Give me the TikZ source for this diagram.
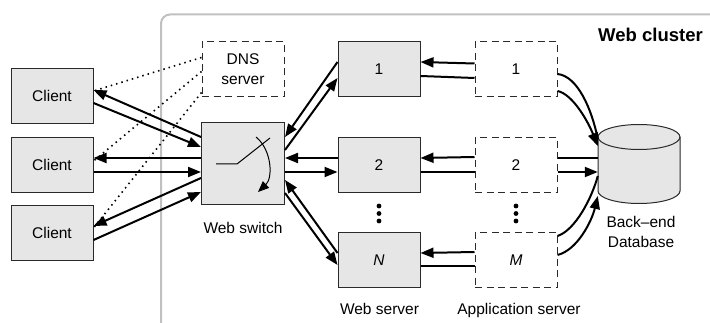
\documentclass[tikz,border=0pt]{standalone}
\usepackage{fontspec}
\setmainfont{Liberation Sans}
\usetikzlibrary{arrows.meta,calc}
\definecolor{boxgray}{HTML}{E6E6E6}
\definecolor{framegray}{HTML}{C0C0C0}
\definecolor{edge}{HTML}{2A2A2A}
\begin{document}
\begin{tikzpicture}[x=1pt,y=-1pt,
  font=\fontsize{15.5}{20}\selectfont,
  box/.style={draw=edge,line width=1pt,fill=boxgray,minimum width=82pt,minimum height=55pt,inner sep=0pt},
  dbox/.style={draw=edge,line width=1pt,dash pattern=on 7pt off 4.5pt,minimum width=82pt,minimum height=55pt,inner sep=0pt},
  flow/.style={line width=2pt,draw=black},
  tip/.style={flow,-{Triangle[length=13pt,width=10pt]}},
  hint/.style={line width=1.6pt,dash pattern=on 1.5pt off 4pt},
  caption/.style={inner sep=0pt,anchor=base},
]
\useasboundingbox (0,0) rectangle (710,323);

% cluster frame, running off the right and bottom edges
\begin{scope}
  \clip (0,0) rectangle (710,323);
  \draw[framegray,line width=2pt,rounded corners=9pt] (161,14.5) rectangle (760,380);
\end{scope}

% clients
\node[box] (c1) at (52,96) {Client};
\node[box] (c2) at (52,165) {Client};
\node[box] (c3) at (52,233) {Client};

% DNS server and web switch
\node[dbox,align=center] (dns) at (243,69.5) {DNS\\server};
\node[box,minimum width=83pt,minimum height=82pt] (sw) at (243,164) {};
\node[caption] (swlabel) at (243,233.3) {Web switch};

% switch symbol
\begin{scope}[shift={(sw.center)}]
  \draw[line width=1pt] (-27,0) -- (-6,0) -- (27,-26);
  \draw[line width=1pt,-{Triangle[length=11pt,width=9pt]}] (13,-27) .. controls (29,-14) and (30,14) .. (15,28);
\end{scope}

% web servers
\node[box] (ws1) at (379,69.5) {1};
\node[box] (ws2) at (379,165) {2};
\node[box] (wsN) at (379,260) {\textit{N}};
\node[caption] (wslabel) at (379.5,315) {Web server};

% application servers
\node[dbox] (as1) at (516,69.5) {1};
\node[dbox] (as2) at (516,165) {2};
\node[dbox] (asM) at (516,260) {\textit{M}};
\node[caption] (aslabel) at (519,315) {Application server};

% vertical ellipses
\foreach \yy in {206,213.5,221} {
  \fill (379,\yy) circle[radius=2.4pt];
  \fill (516,\yy) circle[radius=2.4pt];
}

% back-end database
\node[minimum width=82pt,minimum height=78pt,inner sep=0pt] (db) at (639,164) {};
\begin{scope}[shift={($(db.center)+(0,-27)$)},y=1pt]
  \filldraw[fill=boxgray,draw=edge,line width=1pt] (-41,0) -- (-41,-54)
    arc[start angle=180,end angle=360,x radius=41pt,y radius=12.5pt] -- (41,0)
    arc[start angle=0,end angle=180,x radius=41pt,y radius=12.5pt] -- cycle;
  \draw[edge,line width=1pt] (41,0) arc[start angle=0,end angle=-180,x radius=41pt,y radius=12.5pt];
\end{scope}
\node[align=center,inner sep=0pt] (dblabel) at (641,231.5) {Back–end\\Database};

\node[caption,font=\bfseries\fontsize{18.5}{22}\selectfont] (title) at (650.5,42) {Web cluster};

% DNS hints to the clients
\draw[hint] ($(dns.west)+(0,-12)$) -- ($(c1.east)+(0,-5)$);
\draw[hint] ($(dns.west)+(0,2)$) -- ($(c2.east)+(0,-4)$);
\draw[hint] ($(dns.west)+(0,23)$) -- ($(c3.east)+(0,-5)$);

% clients <-> web switch
\draw[tip] ($(sw.west)+(0,-27)$) -- ($(c1.east)+(0,-6)$);
\draw[tip] ($(c1.east)+(0,7)$) -- ($(sw.west)+(0,-17)$);
\draw[tip] ($(sw.west)+(0,-6)$) -- ($(c2.east)+(0,-7)$);
\draw[tip] ($(c2.east)+(0,7)$) -- ($(sw.west)+(0,8)$);
\draw[tip] ($(sw.west)+(0,14)$) -- ($(c3.east)+(0,-7)$);
\draw[tip] ($(c3.east)+(0,7)$) -- ($(sw.west)+(0,28)$);

% web switch <-> web servers
\draw[tip] ($(ws1.west)+(0,-7.5)$) -- ($(sw.east)+(0,-27)$);
\draw[tip] ($(sw.east)+(0,-14)$) -- ($(ws1.west)+(0,8.5)$);
\draw[tip] ($(ws2.west)+(0,-7)$) -- ($(sw.east)+(0,-6)$);
\draw[tip] ($(sw.east)+(0,8)$) -- ($(ws2.west)+(0,7)$);
\draw[tip] ($(wsN.west)+(0,-7)$) -- ($(sw.east)+(0,16)$);
\draw[tip] ($(sw.east)+(0,29)$) -- ($(wsN.west)+(0,5)$);

% application servers <-> web servers
\draw[tip] ($(as1.west)+(0,-6)$) -- ($(ws1.east)+(0,-7.5)$);
\draw[flow] ($(ws1.east)+(0,6.5)$) -- ($(as1.west)+(0,8.5)$);
\draw[tip] ($(as2.west)+(0,-8)$) -- ($(ws2.east)+(0,-7)$);
\draw[flow] ($(ws2.east)+(0,7)$) -- ($(as2.west)+(0,7)$);
\draw[tip] ($(asM.west)+(0,-8)$) -- ($(wsN.east)+(0,-7)$);
\draw[flow] ($(wsN.east)+(0,6)$) -- ($(asM.west)+(0,6)$);

% application servers <-> database
\draw[flow] ($(as1.east)+(0,4.5)$) .. controls +(20,2) and +(-6,-30) .. ($(db.west)+(0,-25)$);
\draw[tip] ($(as1.east)+(0,21.5)$) .. controls +(15,3) and +(-10,-25) .. ($(db.west)+(0,-18)$);
\draw[flow] ($(as2.east)+(0,-7)$) -- ($(db.west)+(0,-6)$);
\draw[tip] ($(as2.east)+(0,7)$) -- ($(db.west)+(0,8)$);
\draw[flow] ($(asM.east)+(0,-24)$) .. controls +(18,-6) and +(-6,22) .. ($(db.west)+(0,12)$);
\draw[tip] ($(asM.east)+(0,-5)$) .. controls +(20,-5) and +(-6,25) .. ($(db.west)+(0,32)$);
\end{tikzpicture}
\end{document}
